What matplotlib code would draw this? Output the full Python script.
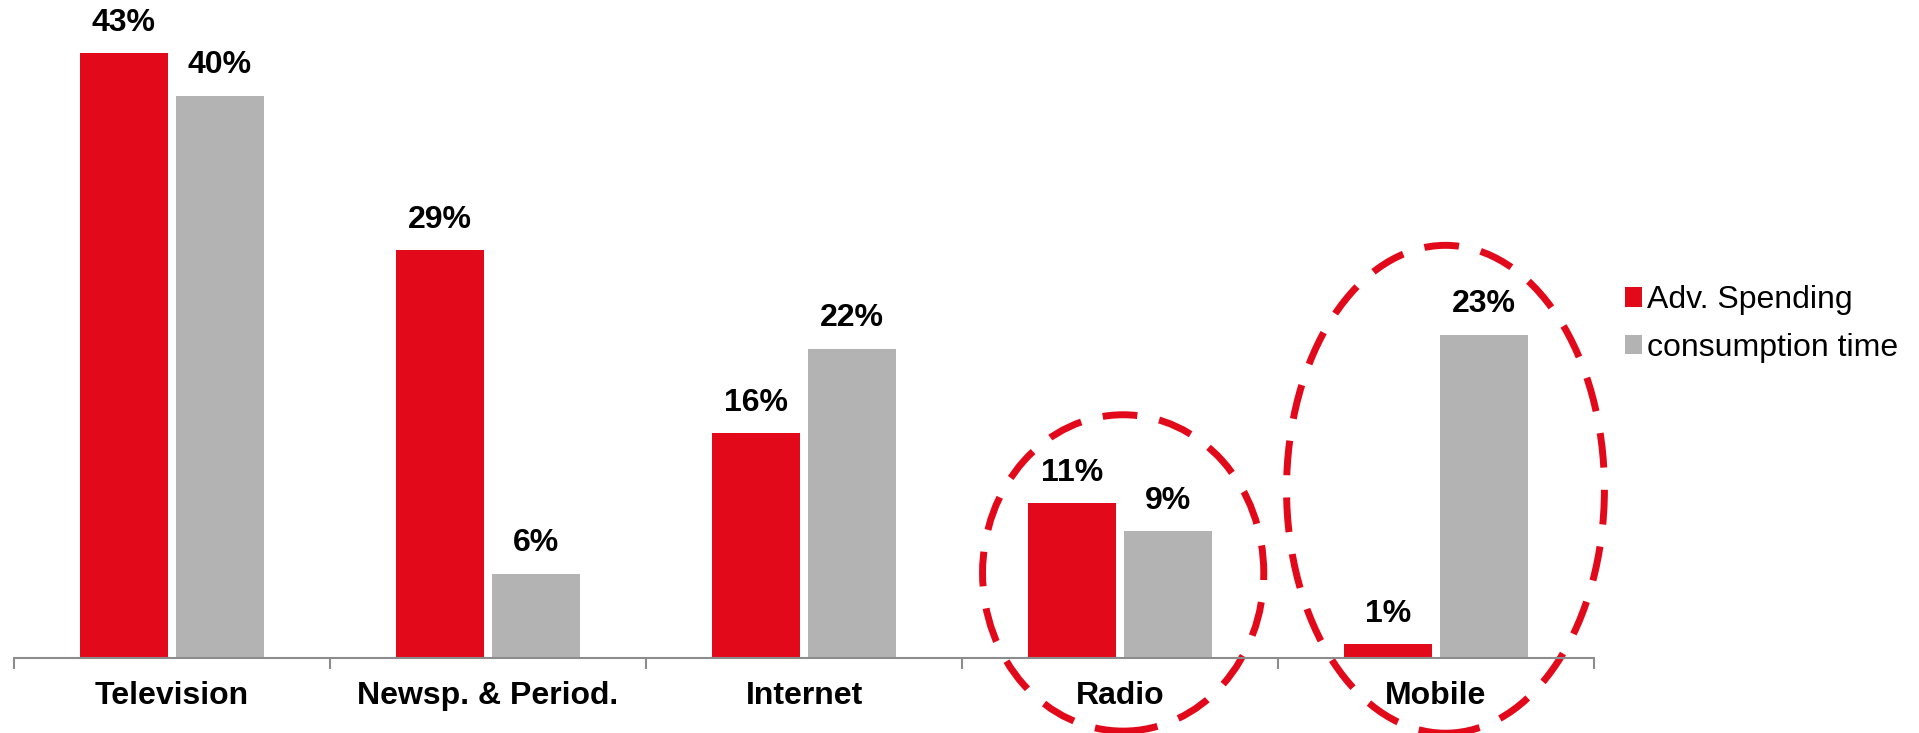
import numpy as np
import matplotlib.pyplot as plt
from matplotlib.patches import Ellipse, Patch

# data
categories = ['Television', 'Newsp. & Period.', 'Internet', 'Radio', 'Mobile']
adv_spending = [43, 29, 16, 11, 1]
consumption_time = [40, 6, 22, 9, 23]
series_names = ['Adv. Spending', 'consumption time']
highlighted = ['Radio', 'Mobile']

RED = '#E20A1A'
GRAY = '#B3B3B3'
AXIS_GRAY = '#8C8C8C'

plt.rcParams['font.family'] = ['Liberation Sans', 'DejaVu Sans']

fig = plt.figure(figsize=(19.19, 7.33), dpi=100)
ax = fig.add_axes([14 / 1919, 75 / 733, 1580 / 1919, 658 / 733])

x = np.arange(len(categories))
w = 0.278
off = 0.152
b1 = ax.bar(x - off, adv_spending, w, color=RED)
b2 = ax.bar(x + off, consumption_time, w, color=GRAY)

for bars, vals in ((b1, adv_spending), (b2, consumption_time)):
    for rect, v in zip(bars, vals):
        ax.annotate(f'{v}%', (rect.get_x() + rect.get_width() / 2, v),
                    xytext=(0, 11), textcoords='offset points',
                    ha='center', va='bottom', fontsize=23, fontweight='bold')

ax.set_xlim(-0.5, len(categories) - 0.5)
ax.set_ylim(0, 46.8)

for s in ('top', 'right', 'left'):
    ax.spines[s].set_visible(False)
ax.spines['bottom'].set_color(AXIS_GRAY)
ax.spines['bottom'].set_linewidth(1.5)
ax.set_yticks([])

ax.set_xticks(np.arange(len(categories) + 1) - 0.5)
ax.set_xticklabels([])
ax.tick_params(axis='x', length=8, width=1.5, color=AXIS_GRAY)
for i, c in enumerate(categories):
    ax.text(i, -0.058, c, transform=ax.get_xaxis_transform(), ha='center', va='center',
            fontsize=23, fontweight='bold')

# dashed ellipses around highlighted categories
ell_specs = {'Radio': (0.01, 6.05, 0.89, 22.5), 'Mobile': (0.03, 12.0, 1.006, 34.7)}
for name in highlighted:
    i = categories.index(name)
    dx, cy, ew, eh = ell_specs[name]
    e = Ellipse((i + dx, cy), ew, eh, transform=ax.transData, fill=False,
                edgecolor=RED, linewidth=5, linestyle=(0, (5, 3.2)), clip_on=False)
    ax.add_patch(e)

handles = [Patch(facecolor=RED), Patch(facecolor=GRAY)]
fig.legend(handles, series_names, loc='center left', bbox_to_anchor=(1596 / 1919, 409 / 733),
           frameon=False, fontsize=23, handlelength=0.55, handleheight=0.55,
           handletextpad=0.15, labelspacing=0.55)

fig.savefig('out.png', dpi=100)
